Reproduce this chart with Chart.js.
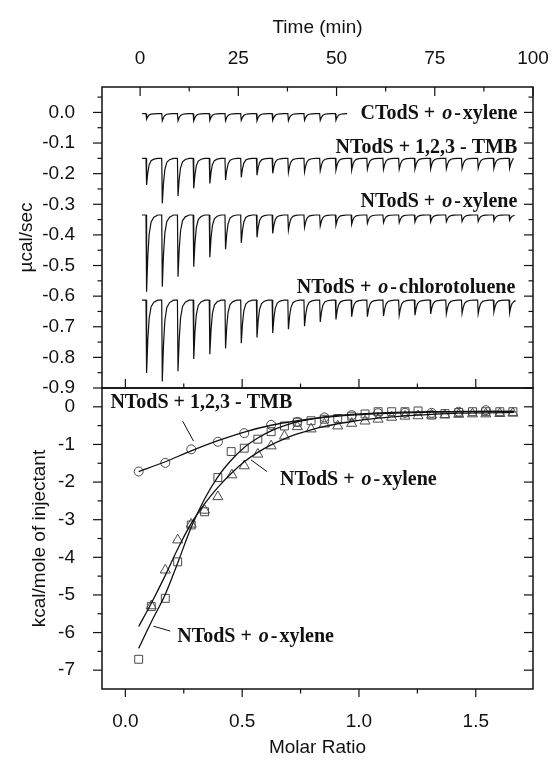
<!DOCTYPE html>
<html>
<head>
<meta charset="utf-8">
<script src="https://cdn.jsdelivr.net/npm/chart.js@4.4.1/dist/chart.umd.min.js"></script>
<style>
html, body { margin: 0; padding: 0; background: #fff; }
canvas { display: block; }
</style>
</head>
<body>
<canvas id="itc" width="557" height="762"></canvas>
<script>
// ---- top panel: raw heat flow (ucal/sec) ----
const injTimes = [1.5, 5.5, 9.5, 13.5, 17.6, 21.6, 25.6, 29.6, 33.6, 37.6, 41.7, 45.7,
                  49.7, 53.7, 57.7, 61.8, 65.8, 69.8, 73.8, 77.8, 81.8, 85.9, 89.9, 93.9];
const traceStart = 0.5;

const ctodsBase = -0.004;
const ctodsEnd = 52.7;
const ctodsPeaks = [-0.022, -0.027, -0.027, -0.027, -0.026, -0.027, -0.026, -0.027, -0.026, -0.027, -0.026, -0.026, -0.025];

const tmbBase = -0.150;
const tmbEnd = 95.0;
const tmbPeaks = [-0.237, -0.297, -0.273, -0.248, -0.232, -0.221, -0.212, -0.205, -0.199, -0.196, -0.194, -0.190,
                  -0.188, -0.188, -0.186, -0.186, -0.185, -0.185, -0.184, -0.184, -0.183, -0.183, -0.182, -0.182];

const xylBase = -0.335;
const xylEnd = 95.2;
const xylPeaks = [-0.586, -0.569, -0.537, -0.504, -0.473, -0.447, -0.426, -0.408, -0.395, -0.384, -0.375, -0.371,
                  -0.368, -0.365, -0.362, -0.360, -0.360, -0.358, -0.357, -0.357, -0.356, -0.356, -0.354, -0.352];

const chloroBase = -0.613;
const chloroEnd = 95.4;
const chloroPeaks = [-0.851, -0.879, -0.845, -0.805, -0.790, -0.771, -0.754, -0.735, -0.720, -0.708, -0.698, -0.684,
                     -0.676, -0.667, -0.667, -0.665, -0.662, -0.662, -0.658, -0.658, -0.656, -0.658, -0.651, -0.654];

// shape of one injection peak: [minutes after injection, fraction of peak depth]
const spikeShape = [[0, 0], [0.15, 1], [0.45, 0.55], [0.8, 0.25], [1.3, 0.09], [2.0, 0.03], [3.0, 0]];

// ---- bottom panel: integrated heats (kcal/mole of injectant) ----
const tmbRatio = [0.057, 0.171, 0.282, 0.396, 0.509, 0.624, 0.736, 0.852, 0.969, 1.082, 1.197, 1.311, 1.427, 1.543];
const tmbHeat  = [-1.72, -1.49, -1.13, -0.93, -0.70, -0.48, -0.40, -0.28, -0.22, -0.17, -0.16, -0.16, -0.13, -0.09];

const sqRatio = [0.057, 0.111, 0.171, 0.224, 0.282, 0.339, 0.396, 0.453, 0.509, 0.567, 0.624, 0.681, 0.736, 0.795, 0.852,
                 0.909, 0.969, 1.026, 1.082, 1.140, 1.197, 1.253, 1.311, 1.368, 1.427, 1.486, 1.543, 1.603, 1.659];
const sqHeat  = [-6.71, -5.31, -5.09, -4.12, -3.14, -2.79, -1.88, -1.19, -1.10, -0.86, -0.66, -0.51, -0.41, -0.37, -0.33,
                 -0.31, -0.25, -0.19, -0.13, -0.13, -0.13, -0.11, -0.22, -0.18, -0.15, -0.13, -0.13, -0.13, -0.13];

const triRatio = [0.111, 0.171, 0.224, 0.282, 0.339, 0.396, 0.456, 0.509, 0.567, 0.624, 0.681, 0.736, 0.795, 0.852,
                  0.909, 0.969, 1.026, 1.082, 1.140, 1.197, 1.253, 1.311, 1.368, 1.427, 1.486, 1.543, 1.603, 1.659];
const triHeat  = [-5.29, -4.34, -3.54, -3.12, -2.75, -2.39, -1.81, -1.57, -1.26, -1.04, -0.78, -0.53, -0.59, -0.46,
                  -0.51, -0.44, -0.38, -0.33, -0.28, -0.25, -0.24, -0.22, -0.22, -0.20, -0.19, -0.19, -0.18, -0.17];

const fitRatio = [0.057, 0.111, 0.171, 0.224, 0.282, 0.339, 0.396, 0.453, 0.509, 0.567, 0.624, 0.681, 0.736,
                  0.795, 0.852, 0.909, 0.969, 1.026, 1.082, 1.140, 1.197, 1.311, 1.427, 1.543, 1.665];
const fitTri = [-5.84, -5.22, -4.48, -3.78, -3.10, -2.58, -2.14, -1.77, -1.46, -1.21, -1.01, -0.85, -0.72,
                -0.61, -0.52, -0.45, -0.39, -0.34, -0.30, -0.27, -0.24, -0.20, -0.17, -0.16, -0.15];
const fitSq  = [-6.42, -5.72, -4.98, -4.15, -3.20, -2.45, -1.86, -1.42, -1.08, -0.83, -0.64, -0.50, -0.40,
                -0.33, -0.27, -0.23, -0.20, -0.18, -0.16, -0.15, -0.14, -0.13, -0.125, -0.12, -0.12];
const tmbFitRatio = [0.057, 0.171, 0.282, 0.396, 0.509, 0.624, 0.736, 0.852, 0.969, 1.082, 1.197, 1.311, 1.427, 1.543, 1.665];
const tmbFitHeat  = [-1.72, -1.46, -1.17, -0.90, -0.67, -0.49, -0.37, -0.28, -0.22, -0.18, -0.16, -0.14, -0.13, -0.12, -0.12];

// ---- axis ticks ----
const timeTicks = [0, 25, 50, 75, 100];
const timeMinor = [12.5, 37.5, 62.5, 87.5];
const ratioTicks = [0, 0.5, 1.0, 1.5];
const ratioMinor = [0.25, 0.75, 1.25];
const powerTicks = [0.0, -0.1, -0.2, -0.3, -0.4, -0.5, -0.6, -0.7, -0.8, -0.9];
const powerMinor = [0.05, -0.05, -0.15, -0.25, -0.35, -0.45, -0.55, -0.65, -0.75, -0.85];
const heatTicks = [0, -1, -2, -3, -4, -5, -6, -7];
const heatMinor = [-0.5, -1.5, -2.5, -3.5, -4.5, -5.5, -6.5];

// ---- text labels: [text, italic, extra gap after] ----
const oXylene = [['NTodS +', 0, 7], ['o', 1, 2], ['-', 0, 2], ['xylene', 0, 0]];
const topLabels = [
  {parts: [['CTodS +', 0, 7], ['o', 1, 2], ['-', 0, 2], ['xylene', 0, 0]], x: 96, y: -0.003},
  {parts: [['NTodS + 1,2,3 - TMB', 0, 0]], x: 96, y: -0.117},
  {parts: oXylene, x: 96, y: -0.292},
  {parts: [['NTodS +', 0, 7], ['o', 1, 2], ['-', 0, 2], ['chlorotoluene', 0, 0]], x: 95.5, y: -0.574}
];
const bottomLabels = [
  {parts: [['NTodS + 1,2,3 - TMB', 0, 0]], x: -0.064, y: 0.10},
  {parts: oXylene, x: 0.662, y: -1.95},
  {parts: oXylene, x: 0.222, y: -6.11}
];
const leaders = [
  [0.245, -0.38, 0.292, -0.91],
  [0.538, -1.41, 0.606, -1.72],
  [0.120, -5.83, 0.192, -5.96]
];

function pts(xs, ys) {
  return xs.map((x, i) => ({x: x, y: ys[i]}));
}

function buildTrace(base, peaks, end) {
  const out = [{x: traceStart, y: base}];
  peaks.forEach((peak, i) => {
    const t0 = injTimes[i];
    for (const [dt, f] of spikeShape) {
      const t = t0 + dt;
      if (t > end) break;
      out.push({x: t, y: base + (peak - base) * f});
    }
  });
  out.push({x: end, y: base});
  return out;
}

const sans = '"Liberation Sans", Arial, sans-serif';
const serif = '"Liberation Serif", "Times New Roman", serif';
const ink = '#111';

function fixedTicks(arr) {
  return s => { s.ticks = arr.map(v => ({value: v})); };
}

const framePlugin = {
  id: 'frame',
  afterDatasetsDraw(chart) {
    const {ctx, chartArea: a, scales} = chart;
    const xt = scales.xt, xm = scales.xm, yt = scales.yt, yb = scales.yb;
    ctx.save();
    ctx.strokeStyle = ink;
    ctx.lineWidth = 1.5;
    ctx.strokeRect(a.left, yt.top, a.right - a.left, yt.bottom - yt.top);
    ctx.strokeRect(a.left, yb.top, a.right - a.left, yb.bottom - yb.top);
    ctx.lineWidth = 1.2;
    const seg = (x1, y1, x2, y2) => { ctx.beginPath(); ctx.moveTo(x1, y1); ctx.lineTo(x2, y2); ctx.stroke(); };

    timeTicks.forEach(v => { const x = xt.getPixelForValue(v); seg(x, a.top, x, a.top + 9); });
    timeMinor.forEach(v => { const x = xt.getPixelForValue(v); seg(x, a.top, x, a.top + 4.5); });

    ratioTicks.forEach(v => {
      const x = xm.getPixelForValue(v);
      seg(x, yb.top, x, yb.top - 9);
      seg(x, a.bottom, x, a.bottom + 8);
    });
    ratioMinor.forEach(v => {
      const x = xm.getPixelForValue(v);
      seg(x, yb.top, x, yb.top - 4.5);
      seg(x, a.bottom, x, a.bottom + 4.5);
    });

    const yTicks = (scale, major, minor) => {
      major.forEach(v => { const y = scale.getPixelForValue(v); seg(a.left - 9, y, a.left, y); seg(a.right, y, a.right - 9, y); });
      minor.forEach(v => { const y = scale.getPixelForValue(v); seg(a.left - 4.5, y, a.left, y); seg(a.right, y, a.right - 4.5, y); });
    };
    yTicks(yt, powerTicks, powerMinor);
    yTicks(yb, heatTicks, heatMinor);

    // leader lines
    ctx.lineWidth = 1;
    leaders.forEach(l => {
      seg(xm.getPixelForValue(l[0]), yb.getPixelForValue(l[1]), xm.getPixelForValue(l[2]), yb.getPixelForValue(l[3]));
    });

    // labels
    ctx.fillStyle = ink;
    ctx.textBaseline = 'middle';
    ctx.textAlign = 'left';
    const fontFor = it => (it ? 'italic bold 20px ' : 'bold 20px ') + serif;
    const drawParts = (parts, x0, y, alignRight) => {
      let w = 0;
      parts.forEach(p => { ctx.font = fontFor(p[1]); w += ctx.measureText(p[0]).width + p[2]; });
      let x = alignRight ? x0 - w : x0;
      parts.forEach(p => { ctx.font = fontFor(p[1]); ctx.fillText(p[0], x, y); x += ctx.measureText(p[0]).width + p[2]; });
    };
    topLabels.forEach(l => drawParts(l.parts, xt.getPixelForValue(l.x), yt.getPixelForValue(l.y), true));
    bottomLabels.forEach(l => drawParts(l.parts, xm.getPixelForValue(l.x), yb.getPixelForValue(l.y), false));
    ctx.restore();
  }
};

const traceStyle = {showLine: true, pointRadius: 0, borderColor: ink, borderWidth: 1.2, xAxisID: 'xt', yAxisID: 'yt'};
const fitStyle = {showLine: true, pointRadius: 0, borderColor: ink, borderWidth: 1.3, cubicInterpolationMode: 'monotone', xAxisID: 'xm', yAxisID: 'yb'};
const markStyle = {showLine: false, borderColor: '#4a4a4a', borderWidth: 1, backgroundColor: 'rgba(0,0,0,0)', xAxisID: 'xm', yAxisID: 'yb'};

const datasets = [
  Object.assign({data: buildTrace(ctodsBase, ctodsPeaks, ctodsEnd)}, traceStyle),
  Object.assign({data: buildTrace(tmbBase, tmbPeaks, tmbEnd)}, traceStyle),
  Object.assign({data: buildTrace(xylBase, xylPeaks, xylEnd)}, traceStyle),
  Object.assign({data: buildTrace(chloroBase, chloroPeaks, chloroEnd)}, traceStyle),
  Object.assign({data: pts(tmbFitRatio, tmbFitHeat)}, fitStyle),
  Object.assign({data: pts(fitRatio, fitTri)}, fitStyle),
  Object.assign({data: pts(fitRatio, fitSq)}, fitStyle),
  Object.assign({data: pts(tmbRatio, tmbHeat), pointStyle: 'circle', pointRadius: 4.5}, markStyle),
  Object.assign({data: pts(sqRatio, sqHeat), pointStyle: 'rect', pointRadius: 5.6}, markStyle),
  Object.assign({data: pts(triRatio, triHeat), pointStyle: 'triangle', pointRadius: 5.8}, markStyle)
];

const tickFont = {family: sans, size: 19};
const titleFont = {family: sans, size: 19};
const noLines = {grid: {display: false}, border: {display: false}};

new Chart(document.getElementById('itc'), {
  type: 'scatter',
  data: {datasets: datasets},
  options: {
    responsive: false,
    animation: false,
    devicePixelRatio: 1,
    layout: {padding: {left: 0, right: 24, top: 0, bottom: 0}},
    plugins: {legend: {display: false}, tooltip: {enabled: false}},
    scales: {
      xt: Object.assign({
        type: 'linear', position: 'top', min: -9.7, max: 100,
        afterBuildTicks: fixedTicks(timeTicks),
        afterFit: s => { s.height = 87; s.paddingLeft = 0; s.paddingRight = 0; },
        ticks: {font: tickFont, color: ink, padding: 9, autoSkip: false, maxRotation: 0},
        title: {display: true, text: 'Time (min)', font: titleFont, color: ink, padding: {top: 16, bottom: 0}}
      }, noLines),
      xm: Object.assign({
        type: 'linear', position: 'bottom', min: -0.1, max: 1.745,
        afterBuildTicks: fixedTicks(ratioTicks),
        afterFit: s => { s.height = 73; s.paddingLeft = 0; s.paddingRight = 0; },
        ticks: {font: tickFont, color: ink, padding: 13, autoSkip: false, maxRotation: 0, callback: v => v.toFixed(1)},
        title: {display: true, text: 'Molar Ratio', font: titleFont, color: ink, padding: {top: 0, bottom: 3}}
      }, noLines),
      yb: Object.assign({
        type: 'linear', position: 'left', stack: 'panels', stackWeight: 1, min: -7.5, max: 0.5,
        afterBuildTicks: fixedTicks(heatTicks),
        afterFit: s => { s.width = 102; s.paddingTop = 0; s.paddingBottom = 0; },
        ticks: {font: tickFont, color: ink, padding: 19, autoSkip: false},
        title: {display: true, text: 'kcal/mole of injectant', font: titleFont, color: ink, padding: {top: 28, bottom: 0}}
      }, noLines),
      yt: Object.assign({
        type: 'linear', position: 'left', stack: 'panels', stackWeight: 1, min: -0.9, max: 0.083,
        afterBuildTicks: fixedTicks(powerTicks),
        afterFit: s => { s.width = 102; s.paddingTop = 0; s.paddingBottom = 0; },
        ticks: {font: tickFont, color: ink, padding: 19, autoSkip: false, callback: v => v.toFixed(1)},
        title: {display: true, text: '\u00b5cal/sec', font: titleFont, color: ink, padding: {top: 15, bottom: 0}}
      }, noLines)
    }
  },
  plugins: [framePlugin]
});
</script>
</body>
</html>
